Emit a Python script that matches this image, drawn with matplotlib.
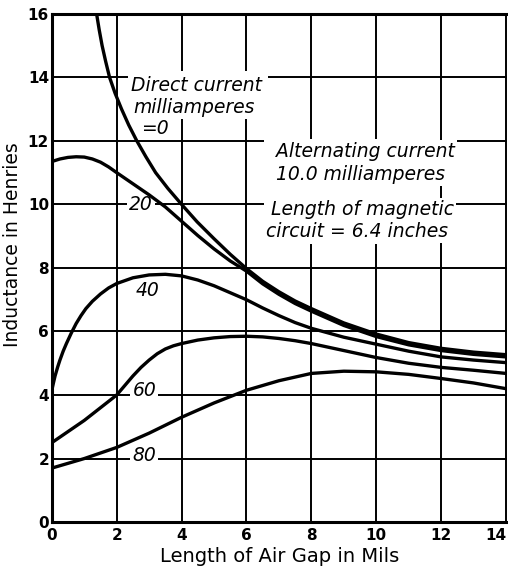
import matplotlib
matplotlib.use("Agg")
import matplotlib.pyplot as plt
from matplotlib.patches import Rectangle

# air gap (mils) and inductance (henries)
x_dc0 = [1.38, 1.46, 1.55, 1.66, 1.78, 1.95, 2.15, 2.37, 2.62, 2.9, 3.2, 3.58, 4.0, 4.48, 5.0, 5.5, 6.0, 6.5, 7.0, 7.5, 8.0, 9.0, 10.0, 11.0, 12.0, 13.0, 14.0]
y_dc0 = [16.0, 15.5, 15.0, 14.5, 14.0, 13.5, 13.0, 12.5, 12.0, 11.5, 11.0, 10.5, 10.0, 9.45, 8.92, 8.43, 7.98, 7.58, 7.25, 6.96, 6.72, 6.27, 5.92, 5.65, 5.47, 5.35, 5.27]

x_dc20 = [0, 0.25, 0.5, 0.75, 1.0, 1.25, 1.5, 1.75, 2.0, 2.5, 3.0, 3.5, 4.0, 4.5, 5.0, 5.5, 6.0, 6.5, 7.0, 7.5, 8.0, 9.0, 10.0, 11.0, 12.0, 13.0, 14.0]
y_dc20 = [11.35, 11.43, 11.48, 11.5, 11.49, 11.43, 11.33, 11.18, 11.0, 10.65, 10.3, 9.92, 9.47, 9.02, 8.6, 8.22, 7.9, 7.5, 7.17, 6.88, 6.64, 6.19, 5.84, 5.58, 5.4, 5.28, 5.2]

x_dc40 = [0, 0.05, 0.1, 0.18, 0.25, 0.35, 0.45, 0.6, 0.75, 0.9, 1.05, 1.25, 1.5, 1.75, 2.0, 2.5, 3.0, 3.5, 4.0, 4.5, 5.0, 5.5, 6.0, 6.5, 7.0, 7.5, 8.0, 9.0, 10.0, 11.0, 12.0, 13.0, 14.0]
y_dc40 = [4.15, 4.38, 4.6, 4.88, 5.1, 5.38, 5.62, 5.95, 6.25, 6.5, 6.72, 6.95, 7.18, 7.37, 7.51, 7.69, 7.78, 7.8, 7.75, 7.62, 7.44, 7.22, 7.0, 6.74, 6.5, 6.28, 6.1, 5.82, 5.6, 5.38, 5.2, 5.1, 5.02]

x_dc60 = [0, 0.5, 1.0, 1.5, 2.0, 2.25, 2.5, 2.75, 3.0, 3.25, 3.5, 3.75, 4.0, 4.5, 5.0, 5.5, 6.0, 6.5, 7.0, 7.5, 8.0, 9.0, 10.0, 11.0, 12.0, 13.0, 14.0]
y_dc60 = [2.5, 2.85, 3.2, 3.6, 4.0, 4.3, 4.6, 4.87, 5.1, 5.3, 5.45, 5.55, 5.62, 5.73, 5.8, 5.84, 5.85, 5.83, 5.78, 5.71, 5.62, 5.4, 5.18, 5.0, 4.87, 4.78, 4.68]

x_dc80 = [0, 1.0, 2.0, 3.0, 4.0, 5.0, 6.0, 7.0, 8.0, 9.0, 10.0, 11.0, 12.0, 13.0, 14.0]
y_dc80 = [1.7, 2.0, 2.35, 2.8, 3.3, 3.75, 4.15, 4.45, 4.68, 4.75, 4.73, 4.65, 4.52, 4.38, 4.2]

curves = [(x_dc0, y_dc0), (x_dc20, y_dc20), (x_dc40, y_dc40), (x_dc60, y_dc60), (x_dc80, y_dc80)]

fig = plt.figure(figsize=(5.08, 5.75), dpi=100)
ax = fig.add_axes([0.102, 0.092, 0.896, 0.884])

for xs, ys in curves:
    ax.plot(xs, ys, color="black", lw=2.4, zorder=4, solid_joinstyle="round")

ax.set_xlim(0, 14.03)
ax.set_ylim(0, 16)
ax.set_xticks(range(0, 15, 2))
ax.set_yticks(range(0, 17, 2))
ax.grid(True, color="black", lw=1.4)
ax.set_axisbelow(True)
ax.tick_params(axis="y", length=0, labelsize=11, pad=2)
ax.tick_params(axis="x", length=0, labelsize=11, pad=4)
for lab in ax.get_xticklabels() + ax.get_yticklabels():
    lab.set_fontweight("bold")
ax.get_xticklabels()[-1].set_ha("right")
for s in ["left", "bottom", "top"]:
    ax.spines[s].set_linewidth(2.2)
ax.spines["right"].set_visible(False)

ax.set_xlabel("Length of Air Gap in Mils", fontsize=14, labelpad=3)
ax.set_ylabel("Inductance in Henries", fontsize=13.5)
ax.yaxis.set_label_coords(-0.066, 0.545)

# white patches that break the grid behind the lettering
ax.add_patch(Rectangle((2.35, 12.75), 4.3, 1.45, facecolor="white", edgecolor="none", zorder=2.5))
ax.add_patch(Rectangle((6.55, 8.75), 5.35, 3.3, facecolor="white", edgecolor="none", zorder=2.5))

box = dict(facecolor="white", edgecolor="none", pad=1.5)
note = dict(fontsize=13.5, style="italic", zorder=3, bbox=box)

ax.text(2.45, 13.75, "Direct current", ha="left", va="center", **note)
ax.text(2.5, 13.05, "milliamperes", ha="left", va="center", **note)
ax.text(2.75, 12.4, "=0", ha="left", va="center", **note)

ax.text(6.9, 11.65, "Alternating current", ha="left", va="center", **note)
ax.text(6.9, 10.95, "10.0 milliamperes", ha="left", va="center", **note)
ax.text(6.75, 9.85, "Length of magnetic", ha="left", va="center", **note)
ax.text(6.6, 9.15, "circuit = 6.4 inches", ha="left", va="center", **note)

ax.text(2.75, 10.0, "20", ha="center", va="center", **note)
ax.text(2.95, 7.3, "40", ha="center", va="center", **note)
ax.text(2.85, 4.15, "60", ha="center", va="center", **note)
ax.text(2.85, 2.1, "80", ha="center", va="center", **note)

fig.savefig("out.png", dpi=100)
